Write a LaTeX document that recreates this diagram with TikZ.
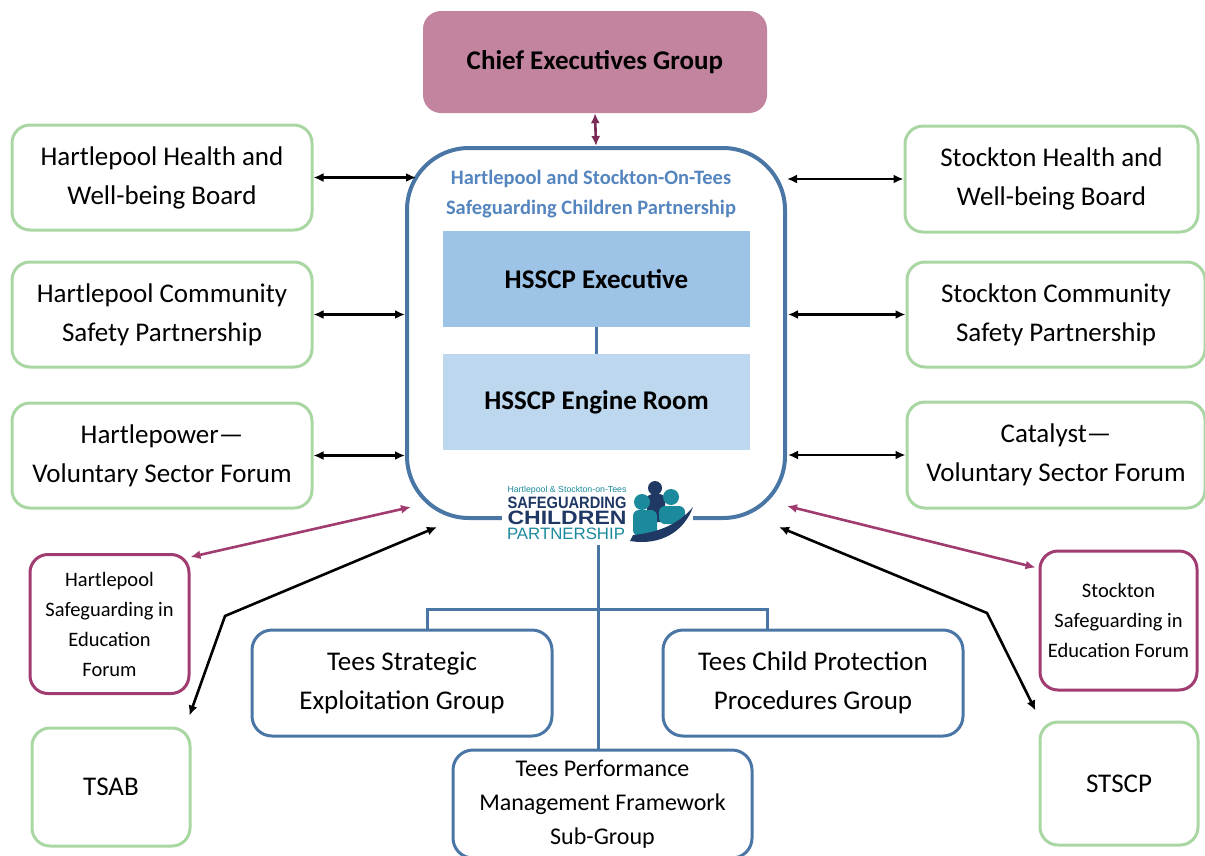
\documentclass[tikz,border=0pt]{standalone}
\usepackage{fontspec}
\setmainfont{Carlito}
\newfontfamily\logofont{Liberation Sans}
\usetikzlibrary{arrows.meta,calc}

\definecolor{cegpink}{HTML}{C3849F}
\definecolor{cegarrow}{HTML}{7B2C56}
\definecolor{hsblue}{HTML}{4A76A6}
\definecolor{titleblue}{HTML}{5585BE}
\definecolor{execblue}{HTML}{9DC3E6}
\definecolor{engblue}{HTML}{BDD7EE}
\definecolor{boxgreen}{HTML}{A9D6A3}
\definecolor{boxmag}{HTML}{A03C70}
\definecolor{logonavy}{HTML}{1F3864}
\definecolor{logoteal}{HTML}{1A8A9C}

\begin{document}
\begin{tikzpicture}[x=1pt,y=-1pt,
    both/.style={{Latex[length=10pt,width=9pt]}-{Latex[length=10pt,width=9pt]},line width=2.6pt},
    bigtext/.style={font=\fontsize{27}{39}\selectfont},
    smalltext/.style={font=\fontsize{20.5}{30}\selectfont}]

  \useasboundingbox (0,0) rectangle (1205,855);
  \clip (0,0) rectangle (1205,855);

  % top and centre
  \node[fill=cegpink,rounded corners=18pt,minimum width=344pt,minimum height=102pt,
        font=\fontsize{27}{30}\selectfont\bfseries] (ceg) at (595,62) {Chief Executives Group};
  \node[draw=hsblue,line width=4pt,rounded corners=62pt,minimum width=378pt,
        minimum height=370pt] (main) at (596,333) {};
  \node[align=center,text=titleblue,font=\fontsize{20.5}{30}\selectfont\bfseries] (title) at (591,194)
    {Hartlepool and Stockton-On-Tees\\Safeguarding Children Partnership};
  \node[fill=execblue,minimum width=307pt,minimum height=96pt,
        font=\fontsize{27}{30}\selectfont\bfseries] (exec) at (596.5,279) {HSSCP Executive};
  \node[fill=engblue,minimum width=307pt,minimum height=96pt,
        font=\fontsize{27}{30}\selectfont\bfseries] (engine) at (596.5,402) {HSSCP Engine Room};
  \draw[hsblue,line width=3pt] (exec) -- (engine);
  \draw[both,cegarrow] (ceg.south) -- (main.north);

  % logo
  \node[fill=white,minimum width=191pt,minimum height=70pt] (logo) at (597,512) {};
  \node[text=logoteal,inner sep=0pt] (logo1) at (567,490)
    {\resizebox{119pt}{!}{\logofont Hartlepool \& Stockton-on-Tees}};
  \node[text=logonavy,inner sep=0pt] (logo2) at (567,502.5)
    {\resizebox{119pt}{11.5pt}{\logofont\bfseries SAFEGUARDING}};
  \node[text=logonavy,inner sep=0pt] (logo3) at (567,518.3)
    {\resizebox{119pt}{13.5pt}{\logofont\bfseries CHILDREN}};
  \node[text=logoteal,inner sep=0pt] (logo4) at (566,534)
    {\resizebox{118pt}{11.5pt}{\logofont PARTNERSHIP}};
  \fill[logonavy,rounded corners=5pt] (647,494) rectangle (665,522);
  \fill[logonavy] (655,488) circle (7pt);
  \fill[logoteal,rounded corners=6pt] (633,510) rectangle (657,536);
  \fill[logoteal] (642,502) circle (8pt);
  \fill[logoteal,rounded corners=6pt] (659,506) rectangle (685,524);
  \fill[logoteal] (671,497) circle (8pt);
  \fill[logonavy] (630,541) .. controls (660,546) and (684,532) .. (693,507)
     .. controls (682,520) and (665,532) .. (633,535) -- cycle;

  % side boxes
  \begin{scope}[every node/.style={draw=boxgreen,line width=3pt,rounded corners=18pt,
        align=center,bigtext}]
    \node[minimum width=300pt,minimum height=105pt] (hhwb) at (162,177.5)
      {Hartlepool Health and\\Well-being Board};
    \node[minimum width=300pt,minimum height=105pt] (hcsp) at (162,314.5)
      {Hartlepool Community\\Safety Partnership};
    \node[minimum width=300pt,minimum height=105pt] (hvsf) at (162,455.5)
      {Hartlepower---\\Voluntary Sector Forum};
    \node[minimum width=293pt,minimum height=106pt] (shwb) at (1051.5,179)
      {Stockton Health and\\Well-being Board};
    \node[minimum width=298pt,minimum height=105pt] (scsp) at (1056,314.5)
      {Stockton Community\\Safety Partnership};
    \node[minimum width=298pt,minimum height=106pt] (cvsf) at (1056,455)
      {Catalyst---\\Voluntary Sector Forum};
    \node[minimum width=158pt,minimum height=118pt] (tsab) at (111,787) {TSAB};
    \node[minimum width=158pt,minimum height=123pt] (stscp) at (1119,783.5) {STSCP};
  \end{scope}

  \begin{scope}[every node/.style={draw=boxmag,line width=3pt,rounded corners=18pt,
        align=center,smalltext}]
    \node[minimum width=159pt,minimum height=139pt] (hsef) at (109.5,624)
      {Hartlepool\\Safeguarding in\\Education\\Forum};
    \node[minimum width=157pt,minimum height=139pt] (ssef) at (1118.5,620.5)
      {Stockton\\Safeguarding in\\Education Forum};
  \end{scope}

  % sub-groups
  \begin{scope}[every node/.style={draw=hsblue,line width=3pt,rounded corners=20pt,
        align=center}]
    \node[minimum width=300pt,minimum height=106pt,bigtext] (tseg) at (402,683)
      {Tees Strategic\\Exploitation Group};
    \node[minimum width=300pt,minimum height=106pt,bigtext] (tcpp) at (813,683)
      {Tees Child Protection\\Procedures Group};
    \node[minimum width=299pt,minimum height=108pt,
          font=\fontsize{24}{34}\selectfont] (tpmf) at (602.5,804)
      {Tees Performance\\Management Framework\\Sub-Group};
  \end{scope}

  \coordinate (tbar) at (598,609);
  \draw[hsblue,line width=3pt] (598,545) -- (tpmf.north -| tbar);
  \draw[hsblue,line width=3pt] ([xshift=25pt]tseg.north) |- (tbar)
    -| ([xshift=-46pt]tcpp.north);

  % arrows to the partnership
  \coordinate (hl1) at (416,177);
  \coordinate (hl2) at (405,316);
  \coordinate (sr1) at (787,177);
  \coordinate (sr2) at (788,316);
  \draw[both] (hhwb.east) -- (hhwb.east -| hl1);
  \draw[both] (hcsp.east) -- (hcsp.east -| hl2);
  \draw[both] (hvsf.east) -- (hvsf.east -| hl2);
  \draw[both] (shwb.west) -- (shwb.west -| sr1);
  \draw[both] (scsp.west) -- (scsp.west -| sr2);
  \draw[both] (cvsf.west) -- (cvsf.west -| sr2);

  \coordinate (ml) at (411,507);
  \coordinate (mr) at (787,506);
  \draw[both,boxmag] (ml) -- ($(hsef.north east)+(0,4)$);
  \draw[both,boxmag] (mr) -- ($(ssef.north west)+(-3,18)$);

  \coordinate (bl1) at (437,527);
  \coordinate (bl2) at (225,616);
  \coordinate (br1) at (779,527);
  \coordinate (br2) at (987,613);
  \draw[both] (bl1) -- (bl2) -- ($(tsab.north east)+(-2,-11)$);
  \draw[both] (br1) -- (br2) -- ($(stscp.north west)+(-3,-10)$);

\end{tikzpicture}
\end{document}
